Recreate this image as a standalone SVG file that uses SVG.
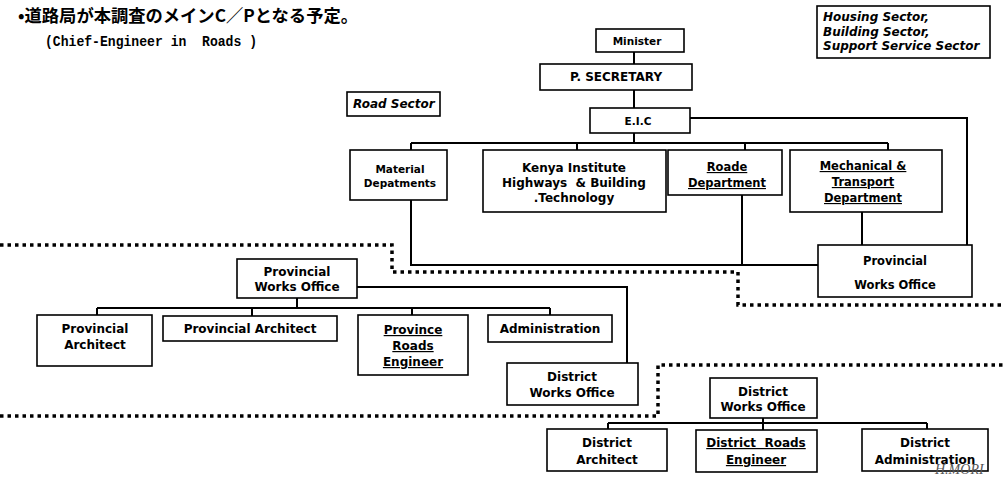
<svg xmlns="http://www.w3.org/2000/svg" width="1003" height="484" viewBox="0 0 1003 484">
<style>
.box{fill:#fff;stroke:#000;stroke-width:1.6}
.t{font-family:"DejaVu Sans",Verdana,sans-serif;font-weight:bold;font-size:12px;text-anchor:middle;fill:#000}
.s{font-size:10.5px}
.m{font-size:11.5px}
.i{font-style:italic;text-anchor:start}
.u{text-decoration:underline}
.ln{stroke:#000;stroke-width:2;fill:none}
.dot{stroke:#000;stroke-width:3.5;stroke-dasharray:3.5 4;fill:none}
</style>
<rect width="1003" height="484" fill="#fff"/>
<g id="title">
<text x="18" y="22" font-family="'Noto Sans CJK JP',sans-serif" font-weight="bold" font-size="17.5" textLength="340" lengthAdjust="spacingAndGlyphs">•道路局が本調査のメインC／Pとなる予定。</text>
<text x="45" y="46" font-family="'Liberation Mono',monospace" font-weight="bold" font-size="14" textLength="212" lengthAdjust="spacingAndGlyphs" xml:space="preserve">(Chief-Engineer in  Roads )</text>
</g>
<g id="connectors">
<path class="ln" d="M634 52V64M634 90V108M634 133V143M411 143H888M411 143V150M577 143V150M745 143V150M888 143V150M690 118H967V245"/>
<path class="ln" d="M411 200V265H818M742 195V265M862 212V245"/>
<path class="ln" d="M357 287H627V363M297 298V308M97 308H550M97 308V315M252 308V316M412 308V315M550 308V315"/>
<path class="ln" d="M763 418V430M608 423H927M608 423V429M927 423V429"/>
<path class="dot" d="M0 245H392V272H738V305H1003"/>
<path class="dot" d="M0 416H658V365H1003"/>
</g>
<g id="sectors">
<rect class="box" x="817" y="6" width="173" height="52"/>
<text class="t i" x="823" y="21">Housing Sector,</text>
<text class="t i" x="823" y="36">Building Sector,</text>
<text class="t i" x="823" y="50">Support Service Sector</text>
</g>
<g id="road-sector">
<rect class="box" x="347" y="92" width="93" height="24"/>
<text class="t i" x="353" y="108" font-size="11">Road Sector</text>
</g>
<g id="minister"><rect class="box" x="596" y="29" width="88" height="23"/><text class="t s" x="637" y="45">Minister</text></g>
<g id="psecretary"><rect class="box" x="540" y="64" width="152" height="26"/><text class="t" x="616" y="81">P. SECRETARY</text></g>
<g id="eic"><rect class="box" x="590" y="108" width="100" height="25"/><text class="t s" x="638" y="125">E.I.C</text></g>
<g id="material"><rect class="box" x="350" y="150" width="97" height="50"/><text class="t s" x="400" y="173">Material</text><text class="t s" x="400" y="187">Depatments</text></g>
<g id="kenya"><rect class="box" x="483" y="150" width="183" height="62"/><text class="t" x="574" y="172">Kenya Institute</text><text class="t" x="574" y="187" xml:space="preserve">Highways  &amp; Building</text><text class="t" x="574" y="202">.Technology</text></g>
<g id="roads-dept"><rect class="box" x="668" y="150" width="114" height="45"/><text class="t m u" x="727" y="171">Roade</text><text class="t m u" x="727" y="187">Department</text></g>
<g id="mechanical"><rect class="box" x="790" y="150" width="152" height="62"/><text class="t m u" x="863" y="170">Mechanical &amp;</text><text class="t m u" x="863" y="186">Transport</text><text class="t m u" x="863" y="202">Department</text></g>
<g id="pwo-hq"><rect class="box" x="818" y="245" width="154" height="52"/><text class="t m" x="895" y="265">Provincial</text><text class="t m" x="895" y="289">Works Office</text></g>
<g id="pwo"><rect class="box" x="237" y="259" width="120" height="39"/><text class="t" x="297" y="276">Provincial</text><text class="t" x="297" y="291">Works Office</text></g>
<g id="prov-architect-1"><rect class="box" x="37" y="315" width="115" height="51"/><text class="t" x="95" y="333">Provincial</text><text class="t" x="95" y="349">Architect</text></g>
<g id="prov-architect-2"><rect class="box" x="163" y="316" width="174" height="25"/><text class="t" x="250" y="333">Provincial Architect</text></g>
<g id="prov-roads"><rect class="box" x="358" y="315" width="110" height="60"/><text class="t u" x="413" y="334">Province</text><text class="t u" x="413" y="350">Roads</text><text class="t u" x="413" y="366">Engineer</text></g>
<g id="administration"><rect class="box" x="488" y="315" width="124" height="27"/><text class="t" x="550" y="333">Administration</text></g>
<g id="dwo-mid"><rect class="box" x="507" y="363" width="131" height="42"/><text class="t" x="572" y="381">District</text><text class="t" x="572" y="397">Works Office</text></g>
<g id="dwo"><rect class="box" x="710" y="378" width="107" height="40"/><text class="t" x="763" y="396">District</text><text class="t" x="763" y="411">Works Office</text></g>
<g id="dist-architect"><rect class="box" x="547" y="429" width="120" height="42"/><text class="t" x="607" y="447">District</text><text class="t" x="607" y="464">Architect</text></g>
<g id="dist-roads"><rect class="box" x="696" y="430" width="121" height="42"/><text class="t u" x="756" y="447" xml:space="preserve">District  Roads</text><text class="t u" x="756" y="464">Engineer</text></g>
<g id="dist-admin"><rect class="box" x="862" y="429" width="126" height="42"/><text class="t" x="925" y="447">District</text><text class="t" x="925" y="464">Administration</text></g>
<text x="935" y="474" font-family="'Liberation Serif',serif" font-style="italic" font-size="14" fill="#555">H.MORI</text>
</svg>
